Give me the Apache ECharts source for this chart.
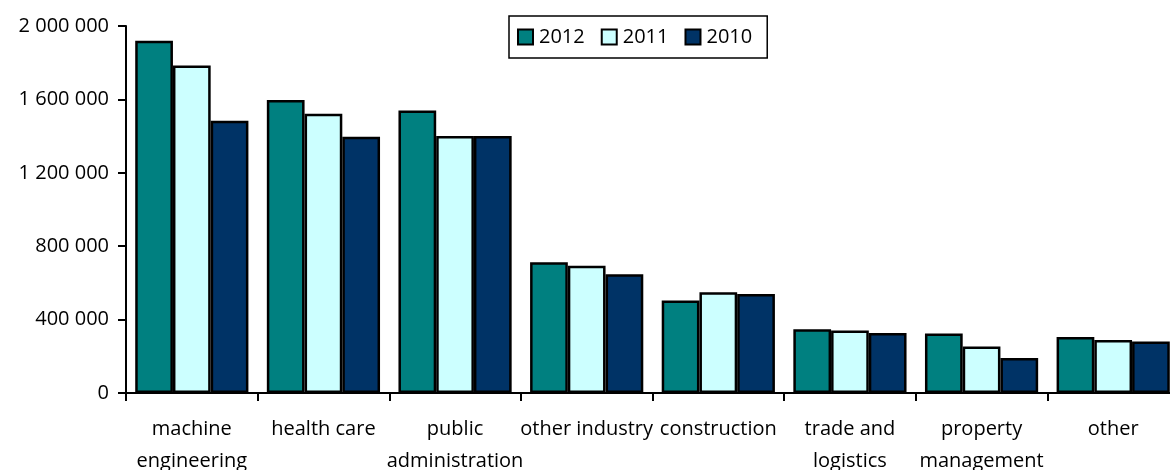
<!DOCTYPE html>
<html>
<head>
<meta charset="utf-8">
<title>Employment by sector, 2010–2012</title>
<script src="https://cdn.jsdelivr.net/npm/echarts@6/dist/echarts.min.js"></script>
<style>
  html, body { margin: 0; padding: 0; background: #fff; }
  #chart { width: 1170px; height: 470px; }
</style>
</head>
<body>
<div id="chart"></div>
<script>
// Sectors (line breaks as printed under the axis)
const categories = [
  'machine\nengineering',
  'health care',
  'public\nadministration',
  'other industry',
  'construction',
  'trade and\nlogistics',
  'property\nmanagement',
  'other'
];

const years = ['2012', '2011', '2010'];

const values2012 = [1920000, 1597000, 1540000, 713000, 504000, 347000, 324000, 305000];
const values2011 = [1785000, 1522000, 1400000, 693000, 549000, 340000, 253000, 289000];
const values2010 = [1483000, 1396000, 1400000, 647000, 540000, 327000, 191000, 280000];

const yTicks = [0, 400000, 800000, 1200000, 1600000, 2000000];

const colors = ['#008080', '#CCFFFF', '#003366'];
const FONT = 'Open Sans';
const FONT_SIZE = 20;

function spaced(v) {
  return String(v).replace(/\B(?=(\d{3})+(?!\d))/g, ' ');
}

const chart = echarts.init(document.getElementById('chart'), null, { renderer: 'canvas' });

const seriesData = [values2012, values2011, values2010];

chart.setOption({
  backgroundColor: '#ffffff',
  animation: false,
  textStyle: { fontFamily: FONT, color: '#000' },
  legend: {
    left: 509,
    top: 16,
    orient: 'horizontal',
    icon: 'rect',
    padding: [11, 15, 11, 8],
    itemWidth: 15,
    itemHeight: 15,
    itemGap: 16,
    borderColor: '#000',
    borderWidth: 1.5,
    backgroundColor: '#fff',
    textStyle: { fontFamily: FONT, fontSize: FONT_SIZE, color: '#000', padding: [0, 0, 0, 1] },
    data: years
  },
  grid: {
    left: 126,
    top: 26,
    bottom: 77,
    width: 1053,
    containLabel: false,
    outerBoundsMode: 'none'
  },
  xAxis: {
    type: 'category',
    data: categories,
    boundaryGap: true,
    axisLine: { show: true, lineStyle: { color: '#000', width: 2 } },
    axisTick: { show: true, length: 8, alignWithLabel: false, lineStyle: { color: '#000', width: 2 } },
    axisLabel: {
      interval: 0,
      margin: 20,
      fontFamily: FONT,
      fontSize: FONT_SIZE,
      lineHeight: 32,
      color: '#000',
      overflow: 'none'
    },
    splitLine: { show: false }
  },
  yAxis: {
    type: 'value',
    min: yTicks[0],
    max: yTicks[yTicks.length - 1],
    interval: yTicks[1] - yTicks[0],
    axisLine: { show: true, lineStyle: { color: '#000', width: 2 } },
    axisTick: { show: true, length: 8, lineStyle: { color: '#000', width: 2 } },
    axisLabel: {
      margin: 17,
      fontFamily: FONT,
      fontSize: FONT_SIZE,
      color: '#000',
      formatter: spaced
    },
    splitLine: { show: false }
  },
  series: years.map((y, i) => ({
    name: y,
    type: 'bar',
    data: seriesData[i],
    barGap: '0%',
    barCategoryGap: '14%',
    itemStyle: {
      color: colors[i],
      borderColor: '#000',
      borderWidth: 2.5
    }
  }))
});
</script>
</body>
</html>
